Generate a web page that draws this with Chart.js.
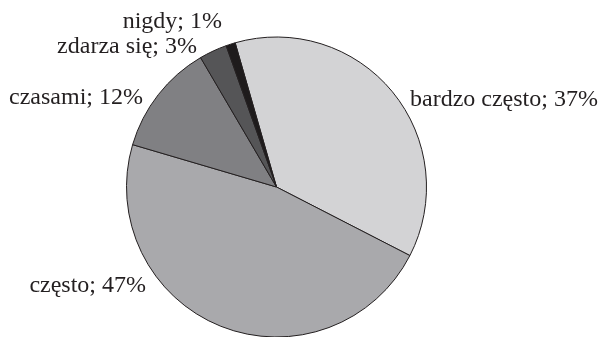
<!DOCTYPE html>
<html>
<head>
<meta charset="utf-8">
<script src="https://cdn.jsdelivr.net/npm/chart.js@4/dist/chart.umd.min.js"></script>
<style>
html,body{margin:0;padding:0;background:#fff;}
#wrap{width:600px;height:337px;position:relative;}
</style>
</head>
<body>
<div id="wrap"><canvas id="c" width="600" height="337"></canvas></div>
<script>
const categories = ["bardzo często", "często", "czasami", "zdarza się", "nigdy"];
const values = [37, 47, 12, 3, 1];
const labelTexts = ["bardzo często; 37%", "często; 47%", "czasami; 12%", "zdarza się; 3%", "nigdy; 1%"];
const colors = ["#d3d3d5", "#a9a9ac", "#808083", "#555557", "#1e1b1c"];

// label anchor layout (x, y, align)
const labelLayout = [
  {x: 410, y: 100, align: "left"},
  {x: 146, y: 286, align: "right"},
  {x: 143, y: 98, align: "right"},
  {x: 197, y: 47, align: "right"},
  {x: 222, y: 22, align: "right"}
];

const FONT = "24px \"Liberation Serif\", \"Times New Roman\", Times, serif";

const labelPlugin = {
  id: "pieLabels",
  afterDatasetsDraw(chart) {
    const ctx = chart.ctx;
    ctx.save();
    ctx.font = FONT;
    ctx.fillStyle = "#231f20";
    ctx.textBaseline = "middle";
    labelTexts.forEach((t, i) => {
      const l = labelLayout[i];
      ctx.textAlign = l.align;
      ctx.fillText(t, l.x, l.y);
    });
    ctx.restore();
  }
};

function build() {
  new Chart(document.getElementById("c"), {
    type: "pie",
    data: {
      labels: categories,
      datasets: [{
        data: values,
        backgroundColor: colors,
        borderColor: "#231f20",
        borderWidth: 1,
        borderAlign: "center"
      }]
    },
    options: {
      responsive: false,
      animation: false,
      rotation: -16,
      radius: 150,
      layout: {padding: {left: 126, right: 173, top: 37, bottom: 0}},
      plugins: {legend: {display: false}, tooltip: {enabled: false}}
    },
    plugins: [labelPlugin]
  });
}
if (document.fonts && document.fonts.load) {
  document.fonts.load(FONT, "bardzo często").then(build, build);
} else {
  build();
}
</script>
</body>
</html>
